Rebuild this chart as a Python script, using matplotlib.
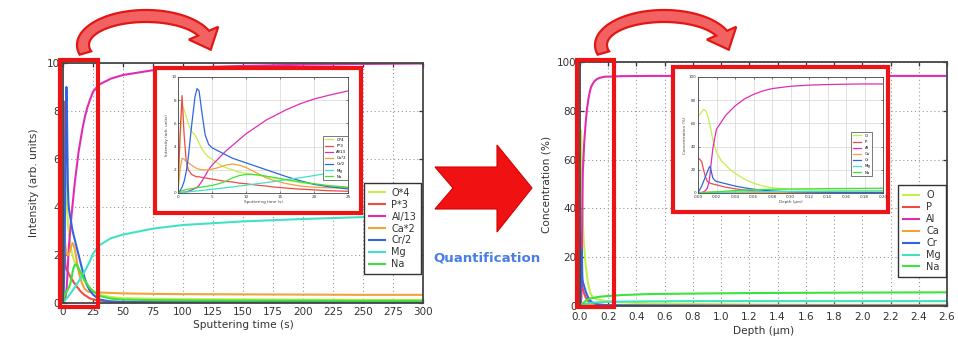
import numpy as np
import matplotlib
matplotlib.use("Agg")
import matplotlib.pyplot as plt
from matplotlib.patches import Rectangle, Polygon

W, H = 958, 337

# sputtering time (s) and scaled intensities (arb. units)
time_s = [0, 0.3, 0.6, 0.9, 1.2, 1.5, 2, 2.5, 2.8, 3.1, 3.5, 4, 4.5, 5, 6, 7, 8, 9, 10,
          11, 12, 13, 14, 16, 18, 20, 22, 25, 30, 40, 50, 75, 100, 150, 200, 250, 300]
o_x4 = [0.3, 4.5, 7.5, 7.2, 6.6, 6.0, 5.3, 5.0, 4.7, 4.3, 3.8, 3.4, 3.1, 2.9, 2.5, 2.2, 2.0, 1.8, 1.7,
        1.6, 1.5, 1.4, 1.3, 1.1, 0.9, 0.75, 0.6, 0.5, 0.35, 0.25, 0.2, 0.18, 0.16, 0.15, 0.14, 0.13, 0.13]
p_x3 = [0.2, 5.0, 8.4, 5.0, 2.8, 2.0, 1.6, 1.45, 1.4, 1.4, 1.35, 1.3, 1.25, 1.2, 1.1, 1.0, 0.95, 0.85, 0.8,
        0.72, 0.65, 0.6, 0.52, 0.42, 0.33, 0.27, 0.2, 0.15, 0.1, 0.06, 0.05, 0.04, 0.04, 0.04, 0.04, 0.04, 0.04]
al_d13 = [0, 0.02, 0.05, 0.08, 0.1, 0.15, 0.25, 0.4, 0.5, 0.65, 1.0, 1.5, 2.0, 2.4, 3.0, 3.6, 4.1, 4.6, 5.1,
          5.5, 5.9, 6.3, 6.6, 7.2, 7.7, 8.1, 8.4, 8.8, 9.1, 9.35, 9.5, 9.7, 9.8, 9.88, 9.93, 9.96, 9.98]
ca_x2 = [0.1, 2.0, 3.0, 2.9, 2.7, 2.6, 2.4, 2.2, 2.1, 2.05, 2.0, 2.0, 2.0, 2.05, 2.2, 2.4, 2.5, 2.4, 2.2,
         1.9, 1.6, 1.3, 1.1, 0.8, 0.6, 0.5, 0.45, 0.45, 0.44, 0.42, 0.4, 0.38, 0.37, 0.36, 0.35, 0.34, 0.34]
cr_d2 = [0, 0.2, 0.5, 1.0, 1.8, 3.0, 5.8, 8.3, 9.0, 8.8, 7.0, 5.0, 4.2, 3.9, 3.6, 3.3, 3.0, 2.8, 2.6,
         2.4, 2.2, 2.0, 1.8, 1.4, 1.05, 0.75, 0.55, 0.35, 0.15, 0.06, 0.04, 0.03, 0.03, 0.03, 0.03, 0.03, 0.03]
mg_int = [0, 0.02, 0.04, 0.06, 0.08, 0.1, 0.13, 0.16, 0.18, 0.2, 0.22, 0.25, 0.28, 0.32, 0.38, 0.45, 0.52, 0.6, 0.67,
          0.75, 0.83, 0.9, 0.98, 1.15, 1.32, 1.5, 1.7, 2.05, 2.4, 2.7, 2.85, 3.1, 3.25, 3.4, 3.5, 3.58, 3.65]
na_int = [0, 0.1, 0.2, 0.25, 0.3, 0.33, 0.38, 0.42, 0.45, 0.48, 0.52, 0.56, 0.6, 0.65, 0.8, 1.0, 1.3, 1.5, 1.6,
          1.6, 1.55, 1.45, 1.35, 1.15, 0.95, 0.8, 0.65, 0.5, 0.3, 0.18, 0.14, 0.12, 0.11, 0.1, 0.1, 0.09, 0.09]

# depth (um) and concentration (%)
depth_um = [0, 0.002, 0.004, 0.006, 0.008, 0.010, 0.012, 0.013, 0.014, 0.016, 0.018, 0.020, 0.025, 0.030,
            0.035, 0.040, 0.050, 0.060, 0.070, 0.080, 0.090, 0.100, 0.120, 0.140, 0.160, 0.180, 0.200,
            0.3, 0.5, 0.8, 1.2, 1.6, 2.0, 2.6]
o_conc = [66, 68, 70, 72, 71, 68, 62, 58, 54, 46, 40, 35, 28, 24, 20, 17, 12, 8.5, 6, 4.5, 3.8, 3.2, 2.8,
          2.5, 2.3, 2.1, 2.0, 1.5, 1.0, 0.8, 0.6, 0.5, 0.5, 0.5]
p_conc = [30, 29, 27, 20, 14, 10, 9, 8.5, 8.2, 7.8, 7.4, 7.0, 6.0, 5.0, 4.3, 3.6, 2.6, 1.9, 1.3, 0.9, 0.7,
          0.5, 0.4, 0.35, 0.3, 0.3, 0.3, 0.2, 0.15, 0.1, 0.1, 0.1, 0.1, 0.1]
al_conc = [0, 0.2, 0.5, 1, 2, 4, 10, 16, 24, 38, 47, 55, 61, 67, 71, 75, 81, 85, 88, 90, 91, 92, 93, 93.5,
           93.8, 94, 94, 94.2, 94.3, 94.3, 94.3, 94.3, 94.3, 94.3]
ca_conc = [0, 0.3, 0.5, 0.6, 0.7, 0.8, 0.8, 0.8, 0.8, 0.8, 0.8, 0.8, 0.8, 0.7, 0.7, 0.7, 0.6, 0.6, 0.5, 0.5,
           0.5, 0.4, 0.4, 0.4, 0.4, 0.4, 0.4, 0.4, 0.3, 0.3, 0.3, 0.3, 0.3, 0.3]
cr_conc = [0, 3, 6, 10, 14, 18, 22, 23, 20, 13, 11, 10, 9, 8, 7, 6, 4.5, 3.3, 2.4, 1.8, 1.4, 1.1, 0.8, 0.6,
           0.5, 0.4, 0.35, 0.25, 0.2, 0.15, 0.1, 0.1, 0.1, 0.1]
mg_conc = [0, 0.05, 0.1, 0.15, 0.2, 0.25, 0.3, 0.3, 0.35, 0.4, 0.45, 0.5, 0.6, 0.7, 0.8, 0.9, 1.0, 1.1, 1.2,
           1.3, 1.35, 1.4, 1.5, 1.55, 1.6, 1.65, 1.7, 1.8, 1.9, 2.0, 2.0, 2.0, 2.0, 2.0]
na_conc = [0, 0.1, 0.2, 0.3, 0.4, 0.5, 0.6, 0.65, 0.7, 0.8, 0.9, 1.0, 1.3, 1.6, 1.9, 2.1, 2.5, 2.8, 3.0, 3.2,
           3.3, 3.4, 3.6, 3.8, 3.9, 4.0, 4.1, 4.5, 4.9, 5.1, 5.3, 5.4, 5.5, 5.6]

int_labels = ["O*4", "P*3", "Al/13", "Ca*2", "Cr/2", "Mg", "Na"]
conc_labels = ["O", "P", "Al", "Ca", "Cr", "Mg", "Na"]
int_series = [o_x4, p_x3, al_d13, ca_x2, cr_d2, mg_int, na_int]
conc_series = [o_conc, p_conc, al_conc, ca_conc, cr_conc, mg_conc, na_conc]
COLORS = ["#c6ee4a", "#ee4b45", "#e02cb4", "#f2a23c", "#2f66e0", "#3fe3c4", "#3ee23e"]

RED = "#ec1414"


def fx(x, y):
    # pixel position in the picture -> figure fraction
    return x / W, 1 - y / H


def box(x0, y0, x1, y1):
    return [x0 / W, 1 - y1 / H, (x1 - x0) / W, (y1 - y0) / H]


def style_axes(ax, size, lw, tick_len, grid_kw, pad, xpad):
    ax.tick_params(direction="in", top=True, right=True, labelsize=size,
                   length=tick_len, width=lw * 0.7, colors="#333333", pad=pad)
    ax.tick_params(axis="x", pad=xpad)
    for s in ax.spines.values():
        s.set_color("#454545")
        s.set_linewidth(lw)
    ax.grid(True, **grid_kw)
    ax.set_axisbelow(True)


def red_box(fig, x0, y0, x1, y1, face="none", z=10):
    r = Rectangle(fx(x0, y1), (x1 - x0) / W, (y1 - y0) / H, transform=fig.transFigure,
                  facecolor=face, edgecolor=RED, linewidth=3.0, zorder=z)
    fig.add_artist(r)


def curved_arrow(fig, cx, cy, rx, ry, half=6, head_w=16, head_l=18):
    th = np.radians(np.linspace(196, 24, 80))
    outer = [(cx + (rx + half) * np.cos(t), cy - (ry + half) * np.sin(t)) for t in th]
    inner = [(cx + (rx - half) * np.cos(t), cy - (ry - half) * np.sin(t)) for t in th[::-1]]
    e = th[-1]
    ex, ey = cx + rx * np.cos(e), cy - ry * np.sin(e)
    tx, ty = rx * np.sin(e) * 0.45, ry * np.cos(e)
    n = np.hypot(tx, ty)
    tx, ty = tx / n, ty / n
    nx, ny = ty, -tx
    head = [(ex + head_w * nx, ey + head_w * ny), (ex + head_l * tx, ey + head_l * ty),
            (ex - head_w * nx, ey - head_w * ny)]
    pts = np.array(outer + head + inner)
    pts = np.column_stack([pts[:, 0] / W, 1 - pts[:, 1] / H])
    fig.add_artist(Polygon(pts, closed=True, transform=fig.transFigure, facecolor="#f26262",
                           edgecolor="#e31616", linewidth=1.6, zorder=12))


fig = plt.figure(figsize=(W / 100, H / 100), dpi=100)

main_grid = dict(color="#9a9a9a", linestyle=(0, (1, 2.5)), linewidth=0.8)
inset_grid = dict(color="#d4d4d4", linestyle="-", linewidth=0.5)

# ---------- left: raw intensities ----------
ax1 = fig.add_axes(box(63, 63, 423, 303))
for vals, lab, c in zip(int_series, int_labels, COLORS):
    ax1.plot(time_s, vals, color=c, lw=1.5, label=lab)
ax1.set_xlim(0, 300)
ax1.set_ylim(0, 10)
ax1.set_xticks(np.arange(0, 301, 25))
ax1.set_yticks(np.arange(0, 11, 2))
style_axes(ax1, 7.5, 1.3, 3, main_grid, 2, 3)
ax1.set_xlabel("Sputtering time (s)", fontsize=7.6, color="#333333", labelpad=2)
ax1.set_ylabel("Intensity (arb. units)", fontsize=7.6, color="#333333", labelpad=6)
leg = ax1.legend(loc="lower right", bbox_to_anchor=(0.995, 0.12), borderaxespad=0, fontsize=7,
                 labelspacing=0.2, handlelength=1.6, handletextpad=0.7, borderpad=0.5,
                 fancybox=False, framealpha=1)
leg.get_frame().set_edgecolor("#333333")
leg.get_frame().set_linewidth(1.0)
for t in leg.get_texts():
    t.set_color("#333333")

# ---------- right: concentrations ----------
ax2 = fig.add_axes(box(580, 62, 947, 306))
for vals, lab, c in zip(conc_series, conc_labels, COLORS):
    ax2.plot(depth_um, vals, color=c, lw=1.5, label=lab)
ax2.set_xlim(0, 2.6)
ax2.set_ylim(0, 100)
ax2.set_xticks(np.arange(0, 2.61, 0.2))
ax2.set_xticklabels([f"{v:.1f}" for v in np.arange(0, 2.61, 0.2)])
ax2.set_yticks(np.arange(0, 101, 20))
style_axes(ax2, 7.5, 1.3, 3, main_grid, 2.5, 4)
ax2.set_xlabel("Depth (µm)", fontsize=7.6, color="#333333", labelpad=3)
ax2.set_ylabel("Concentration (%)", fontsize=7.6, color="#333333", labelpad=4)
leg2 = ax2.legend(loc="lower right", bbox_to_anchor=(0.997, 0.12), borderaxespad=0, fontsize=7,
                  labelspacing=0.2, handlelength=1.6, handletextpad=0.8, borderpad=0.5,
                  fancybox=False, framealpha=1)
leg2.get_frame().set_edgecolor("#333333")
leg2.get_frame().set_linewidth(1.0)
for t in leg2.get_texts():
    t.set_color("#333333")

# ---------- zoom frames and insets ----------
red_box(fig, 60, 60, 98, 307)
red_box(fig, 577, 60, 614, 307)
red_box(fig, 155, 68, 361, 213, face="white", z=4)
red_box(fig, 673, 67, 888, 212, face="white", z=4)

ins1 = fig.add_axes(box(178, 77, 348, 193))
ins1.set_zorder(5)
for vals, lab, c in zip(int_series, int_labels, COLORS):
    ins1.plot(time_s, vals, color=c, lw=0.9, label=lab)
ins1.set_xlim(0, 25)
ins1.set_ylim(0, 10)
ins1.set_xticks(np.arange(0, 26, 5))
ins1.set_yticks(np.arange(0, 11, 2))
style_axes(ins1, 3, 0.6, 1.2, inset_grid, 1.2, 1.2)
ins1.set_xlabel("Sputtering time (s)", fontsize=3, color="#444444", labelpad=1)
ins1.set_ylabel("Intensity (arb. units)", fontsize=3, color="#444444", labelpad=1.5)
l3 = ins1.legend(loc="lower right", bbox_to_anchor=(1.0, 0.11), borderaxespad=0, fontsize=2.8,
                 labelspacing=0.55, handlelength=2.2, handletextpad=0.8, fancybox=False, framealpha=1)
l3.get_frame().set_edgecolor("#444444")
l3.get_frame().set_linewidth(0.5)

ins2 = fig.add_axes(box(698, 77, 883, 193))
ins2.set_zorder(5)
for vals, lab, c in zip(conc_series, conc_labels, COLORS):
    ins2.plot(depth_um, vals, color=c, lw=0.9, label=lab)
ins2.set_xlim(0, 0.2)
ins2.set_ylim(0, 100)
ins2.set_xticks(np.arange(0, 0.201, 0.02))
ins2.set_xticklabels([f"{v:.2f}" for v in np.arange(0, 0.201, 0.02)])
ins2.set_yticks(np.arange(0, 101, 20))
style_axes(ins2, 3, 0.6, 1.2, inset_grid, 1.2, 1.2)
ins2.set_xlabel("Depth (µm)", fontsize=3, color="#444444", labelpad=1)
ins2.set_ylabel("Concentration (%)", fontsize=3, color="#444444", labelpad=1.5)
l4 = ins2.legend(loc="lower right", bbox_to_anchor=(0.94, 0.145), borderaxespad=0, fontsize=2.8,
                 labelspacing=0.55, handlelength=2.2, handletextpad=0.8, fancybox=False, framealpha=1)
l4.get_frame().set_edgecolor("#444444")
l4.get_frame().set_linewidth(0.5)

# ---------- arrows and caption ----------
curved_arrow(fig, 146, 45, 63, 29)
curved_arrow(fig, 664, 45, 63, 29)

big = [(435, 167), (497, 167), (497, 145), (532, 188), (497, 232), (497, 209), (435, 209), (453, 188)]
big = [fx(x, y) for x, y in big]
fig.add_artist(Polygon(big, closed=True, transform=fig.transFigure, facecolor="#f01212",
                       edgecolor="#d40000", linewidth=0.8, zorder=12))

fig.text(*fx(487, 258), "Quantification", color="#4a7de6", fontsize=9.6, fontweight="bold",
         ha="center", va="center")

fig.savefig("out.png", dpi=100, facecolor="white")
